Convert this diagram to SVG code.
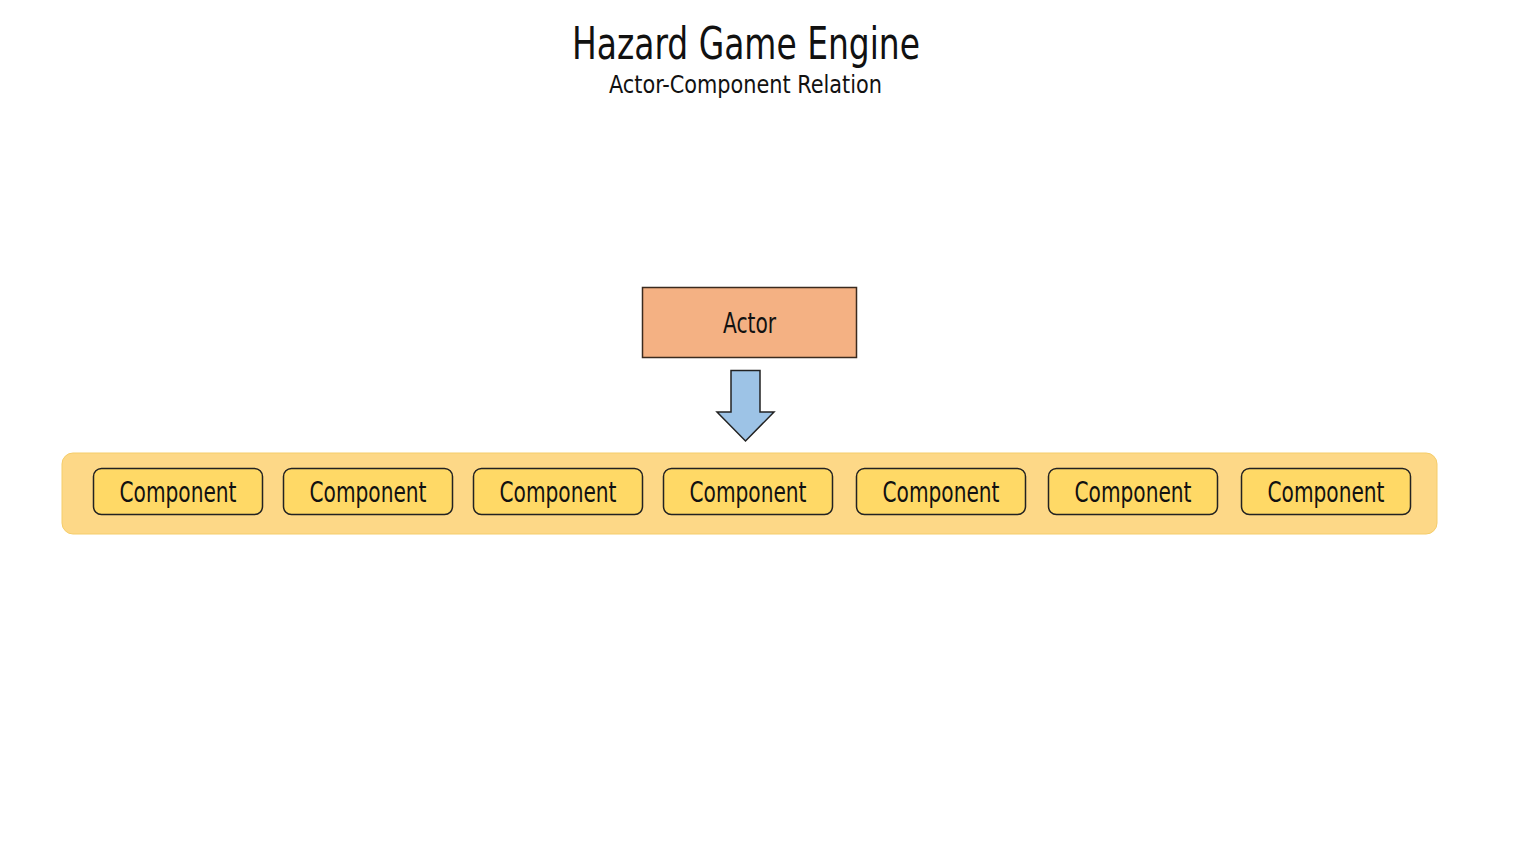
<svg xmlns="http://www.w3.org/2000/svg" width="1536" height="864" viewBox="0 0 1536 864">
<style>
text{font-family:"DejaVu Sans Condensed","Liberation Sans Narrow","Liberation Sans",sans-serif;fill:#111;text-anchor:middle}
.comp rect{fill:#FFD966;stroke:#222;stroke-width:1.5}
.comp text{font-size:28px}
</style>
<rect width="1536" height="864" fill="#fff"/>
<g id="title">
<text x="746" y="59" font-size="45" textLength="348" lengthAdjust="spacingAndGlyphs">Hazard Game Engine</text>
<text x="745.5" y="93" font-size="24" textLength="273" lengthAdjust="spacingAndGlyphs">Actor-Component Relation</text>
</g>
<g id="container">
<rect x="62" y="453" width="1375" height="81" rx="11" fill="#FDD887" stroke="#F5CD6A" stroke-width="1"/>
</g>
<g id="actor">
<rect x="642.5" y="287.5" width="214" height="70" fill="#F4B183" stroke="#3a2a1e" stroke-width="1.5"/>
<text x="749.5" y="333" font-size="28" textLength="53" lengthAdjust="spacingAndGlyphs">Actor</text>
</g>
<g id="connectors">
<path d="M731 370.5 H760 V412 H774 L745.5 441 L717 412 H731 Z" fill="#9DC3E6" stroke="#222" stroke-width="1.5" stroke-linejoin="miter"/>
</g>
<g id="c1" class="comp"><rect x="93.5" y="468.5" width="169" height="46" rx="8"/><text x="178" y="502" textLength="117" lengthAdjust="spacingAndGlyphs">Component</text></g>
<g id="c2" class="comp"><rect x="283.5" y="468.5" width="169" height="46" rx="8"/><text x="368" y="502" textLength="117" lengthAdjust="spacingAndGlyphs">Component</text></g>
<g id="c3" class="comp"><rect x="473.5" y="468.5" width="169" height="46" rx="8"/><text x="558" y="502" textLength="117" lengthAdjust="spacingAndGlyphs">Component</text></g>
<g id="c4" class="comp"><rect x="663.5" y="468.5" width="169" height="46" rx="8"/><text x="748" y="502" textLength="117" lengthAdjust="spacingAndGlyphs">Component</text></g>
<g id="c5" class="comp"><rect x="856.5" y="468.5" width="169" height="46" rx="8"/><text x="941" y="502" textLength="117" lengthAdjust="spacingAndGlyphs">Component</text></g>
<g id="c6" class="comp"><rect x="1048.5" y="468.5" width="169" height="46" rx="8"/><text x="1133" y="502" textLength="117" lengthAdjust="spacingAndGlyphs">Component</text></g>
<g id="c7" class="comp"><rect x="1241.5" y="468.5" width="169" height="46" rx="8"/><text x="1326" y="502" textLength="117" lengthAdjust="spacingAndGlyphs">Component</text></g>
</svg>
